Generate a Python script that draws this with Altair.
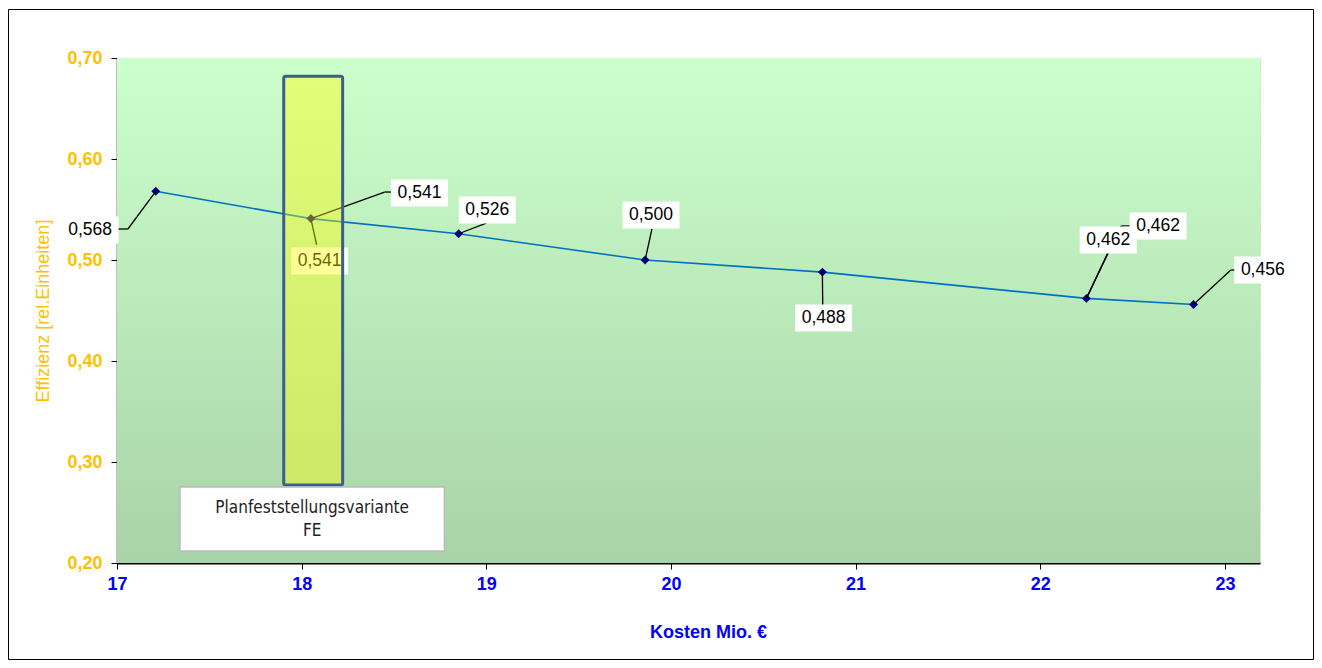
import altair as alt
import pandas as pd

# ---- data ----
kosten = [17.21, 18.05, 18.85, 19.86, 20.82, 22.25, 22.83]
effizienz = [0.568, 0.541, 0.526, 0.500, 0.488, 0.462, 0.456]

x_ticks = [17, 18, 19, 20, 21, 22, 23]
y_ticks = [0.2, 0.3, 0.4, 0.5, 0.6, 0.7]
x_domain = [17, 23.19]
y_domain = [0.2, 0.7]

# data labels (value, label anchor in data units)
lab_value = [0.568, 0.541, 0.541, 0.526, 0.500, 0.488, 0.462, 0.462, 0.456]
lab_x = [16.854, 18.638, 18.097, 19.005, 19.892, 20.827, 22.368, 22.638, 23.205]
lab_y = [0.5297, 0.5663, 0.4990, 0.5495, 0.5446, 0.4426, 0.5198, 0.5337, 0.4901]

# leader line segments
seg_x = [17.21, 17.059, 18.05, 18.449, 18.05, 18.85, 19.86, 20.82, 22.25, 22.25, 22.438, 22.83, 23.032]
seg_y = [0.568, 0.5307, 0.541, 0.5673, 0.541, 0.526, 0.500, 0.488, 0.462, 0.462, 0.5337, 0.456, 0.4901]
seg_x2 = [17.059, 17.005, 18.449, 18.486, 18.081, 19.0, 19.897, 20.822, 22.368, 22.438, 22.486, 23.032, 23.065]
seg_y2 = [0.5307, 0.5307, 0.5673, 0.5673, 0.5149, 0.5366, 0.5307, 0.4554, 0.5079, 0.5337, 0.5337, 0.4901, 0.4901]

# highlight of the planning variant
hl_x, hl_x2, hl_y, hl_y2 = 17.903, 18.222, 0.2772, 0.682
box_x, box_x2, box_y, box_y2 = 17.341, 18.773, 0.2119, 0.2752
box_text = "Planfeststellungsvariante\nFE"

FONT = "Liberation Sans"

df = pd.DataFrame({"kosten": kosten, "eff": effizienz})
labels = pd.DataFrame({
    "x": lab_x, "y": lab_y,
    "text": [f"{v:.3f}".replace(".", ",") for v in lab_value],
})
segs = pd.DataFrame({"x": seg_x, "y": seg_y, "x2": seg_x2, "y2": seg_y2})
hl = pd.DataFrame({"x": [hl_x], "x2": [hl_x2], "y": [hl_y], "y2": [hl_y2]})
box = pd.DataFrame({"x": [box_x], "x2": [box_x2], "y": [box_y], "y2": [box_y2],
                    "xc": [(box_x + box_x2) / 2], "yc": [(box_y + box_y2) / 2],
                    "t": [box_text]})
bg = pd.DataFrame({"x": [x_domain[0]], "x2": [x_domain[1]], "y": [y_domain[0]], "y2": [y_domain[1]]})

xs = alt.Scale(domain=x_domain, nice=False, zero=False)
ys = alt.Scale(domain=y_domain, nice=False, zero=False)

X = alt.X("x:Q", scale=xs, axis=alt.Axis(
    values=x_ticks, title="Kosten Mio. €", format="d", labelFlush=False,
    labelColor="#0000FF", labelFontWeight="bold", labelFontSize=18, labelFont=FONT,
    labelPadding=6, tickSize=6, tickColor="#000", domainColor="#000", domainWidth=2,
    grid=True, gridDash=[2, 2], gridColor="#555", gridOpacity=0.8,
    titleColor="#0000FF", titleFont=FONT, titleFontSize=18, titleFontWeight="bold",
    titlePadding=30, titleX=591))
Y = alt.Y("y:Q", scale=ys, axis=alt.Axis(
    values=y_ticks, title="Effizienz [rel.Einheiten]", labelFlush=False,
    labelExpr="replace(format(datum.value, '.2f'), '.', ',')",
    labelColor="#FFC000", labelFontWeight="bold", labelFontSize=18, labelFont=FONT,
    labelPadding=9, tickSize=6, tickColor="#000", domainColor="#000", domainWidth=1.5,
    grid=False, titleColor="#FFC000", titleFont=FONT, titleFontSize=18,
    titleFontWeight="normal", titlePadding=14))

background = alt.Chart(bg).mark_rect(
    fill=alt.LinearGradient(gradient="linear",
                            stops=[alt.GradientStop(offset=0, color="#CCFFCC"),
                                   alt.GradientStop(offset=1, color="#A8D3A8")],
                            x1=0, x2=0, y1=0, y2=1)
).encode(x=X, x2="x2:Q", y=Y, y2="y2:Q")

line = alt.Chart(df).mark_line(color="#0070C0", strokeWidth=1.6).encode(
    x=alt.X("kosten:Q", scale=xs), y=alt.Y("eff:Q", scale=ys))
points = alt.Chart(df).mark_point(shape="diamond", filled=True, color="#000080",
                                  size=80, opacity=1).encode(
    x=alt.X("kosten:Q", scale=xs), y=alt.Y("eff:Q", scale=ys))

leaders = alt.Chart(segs).mark_rule(color="#000", strokeWidth=1.3).encode(
    x=alt.X("x:Q", scale=xs), y=alt.Y("y:Q", scale=ys), x2="x2:Q", y2="y2:Q")

lab_boxes = alt.Chart(labels).mark_rect(fill="white", width=57, height=27).encode(
    x=alt.X("x:Q", scale=xs), y=alt.Y("y:Q", scale=ys))
lab_text = alt.Chart(labels).mark_text(font=FONT, fontSize=17.5, color="#000",
                                       align="center", baseline="middle").encode(
    x=alt.X("x:Q", scale=xs), y=alt.Y("y:Q", scale=ys), text="text:N")

highlight = alt.Chart(hl).mark_rect(fill="#FFFF00", fillOpacity=0.4, stroke="#3B5E8C",
                                    strokeWidth=3, cornerRadius=2).encode(
    x=alt.X("x:Q", scale=xs), x2="x2:Q", y=alt.Y("y:Q", scale=ys), y2="y2:Q")

note_box = alt.Chart(box).mark_rect(fill="white", stroke="#BBBBBB", strokeWidth=1.5).encode(
    x=alt.X("x:Q", scale=xs), x2="x2:Q", y=alt.Y("y:Q", scale=ys), y2="y2:Q")
note_text = alt.Chart(box).mark_text(font="Liberation Sans Narrow, DejaVu Sans Condensed, " + FONT,
                                     fontSize=17, color="#222", align="center", baseline="middle",
                                     lineBreak="\n", lineHeight=23, dy=-11).encode(
    x=alt.X("xc:Q", scale=xs), y=alt.Y("yc:Q", scale=ys), text="t:N")

frame = alt.Chart(bg).mark_rect(fill=None, stroke="#000", strokeWidth=1).encode(
    x=alt.value(-108.5), x2=alt.value(1196.5), y=alt.value(-48.5), y2=alt.value(601.5))

chart = alt.layer(
    background, line, points, leaders, lab_boxes, lab_text, highlight,
    note_box, note_text, frame
).properties(
    width=1143, height=505,
    padding={"left": 109, "top": 50, "right": 54, "bottom": 97},
    autosize=alt.AutoSizeParams(type="none"),
).configure_view(stroke="#888", strokeWidth=2).configure(background="white")

chart.save("out.html", embed_options={"renderer": "svg", "actions": False})
